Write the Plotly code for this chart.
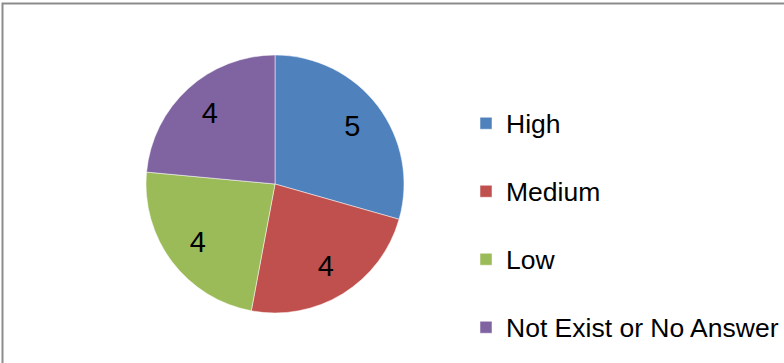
import plotly.graph_objects as go

categories = ["High", "Medium", "Low", "Not Exist or No Answer"]
values = [5, 4, 4, 4]
colors = ["#4F81BD", "#C0504D", "#9BBB59", "#8064A2"]

W, H = 784, 363
legend_labels = [
    "<span style='font-size:26.5px'>" + c + "</span><br>&nbsp;" for c in categories
]
pie_domain = dict(x=[146 / W, 404 / W], y=[(H - 313) / H, (H - 55) / H])

fig = go.Figure()
# filled pie (slices + legend)
fig.add_trace(
    go.Pie(
        labels=legend_labels,
        values=values,
        marker=dict(colors=colors, line=dict(color="white", width=0.5)),
        sort=False,
        direction="clockwise",
        rotation=0,
        textinfo="none",
        domain=pie_domain,
        hoverinfo="label+value",
    )
)
# transparent ring carrying the value labels further out, like the original
fig.add_trace(
    go.Pie(
        labels=legend_labels,
        values=values,
        hole=0.5,
        marker=dict(colors=["rgba(0,0,0,0)"] * len(values), line=dict(width=0)),
        sort=False,
        direction="clockwise",
        rotation=0,
        textinfo="value",
        textposition="inside",
        insidetextorientation="horizontal",
        textfont=dict(family="Liberation Sans, Arial", size=29, color="black"),
        domain=pie_domain,
        hoverinfo="skip",
        showlegend=False,
    )
)

fig.add_shape(
    type="rect", xref="paper", yref="paper",
    x0=2.5 / W, x1=1.05, y0=-0.05, y1=1 - 3.5 / H,
    line=dict(color="#8c8c8c", width=2), fillcolor="rgba(0,0,0,0)", layer="below",
)

fig.update_layout(
    width=W, height=H,
    margin=dict(l=0, r=0, t=0, b=0, autoexpand=False),
    paper_bgcolor="white", plot_bgcolor="white",
    font=dict(family="Liberation Sans, Arial", color="black"),
    legend=dict(
        x=466 / W, y=1 - 100.5 / H, xanchor="left", yanchor="top",
        font=dict(size=25, color="black"),
        valign="top", itemwidth=30,
        bgcolor="rgba(0,0,0,0)",
    ),
    showlegend=True,
)

fig.write_html(
    "out.html",
    config={"displayModeBar": False},
    post_script="document.body.style.margin='0';",
)
